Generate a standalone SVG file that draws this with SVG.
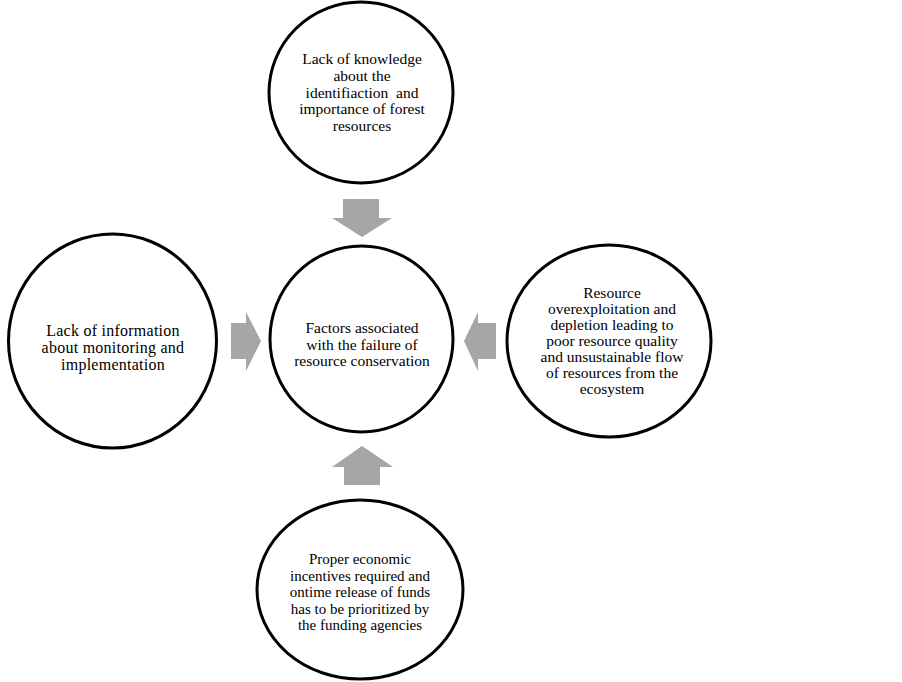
<svg xmlns="http://www.w3.org/2000/svg" width="902" height="682" viewBox="0 0 902 682">
<style>
.node{fill:#fff;stroke:#000;stroke-width:3}
.t{font-family:"Liberation Serif","Times New Roman",serif;font-size:15.5px;fill:#000;text-anchor:middle;white-space:pre}
.big{font-size:16px;letter-spacing:0.25px}
.sm{font-size:15px}
.arr{fill:#a6a6a6;stroke:none}
</style>
<rect width="902" height="682" fill="#fff"/>
<g id="connectors">
<polygon class="arr" points="343,199 379,199 379,218 392,218 362,237 332,218 343,218"/>
<polygon class="arr" points="362,446 393,467 380,467 380,485 344,485 344,467 332,467"/>
<polygon class="arr" points="231,323 246,323 246,312 261,341 246,371 246,359 231,359"/>
<polygon class="arr" points="464,341 478,312 478,323 496,323 496,359 478,359 478,371"/>
</g>
<g id="node-top">
<ellipse class="node" cx="361" cy="92.5" rx="92" ry="90.5"/>
<text class="t" x="362" y="64">Lack of knowledge</text>
<text class="t" x="362" y="81">about the</text>
<text class="t" x="362" y="97.5" xml:space="preserve">identifiaction  and</text>
<text class="t" x="362" y="114">importance of forest</text>
<text class="t" x="362" y="131">resources</text>
</g>
<g id="node-center">
<ellipse class="node" cx="361.5" cy="339" rx="91.5" ry="93"/>
<text class="t" x="362" y="333">Factors associated</text>
<text class="t" x="362" y="350">with the failure of</text>
<text class="t" x="362" y="366">resource conservation</text>
</g>
<g id="node-left">
<ellipse class="node" cx="112.5" cy="341" rx="104" ry="107"/>
<text class="t big" x="113" y="335.5">Lack of information</text>
<text class="t big" x="113" y="352.5">about monitoring and</text>
<text class="t big" x="113" y="369.5">implementation</text>
</g>
<g id="node-right">
<ellipse class="node" cx="609" cy="341" rx="102" ry="96"/>
<text class="t" x="612" y="298">Resource</text>
<text class="t" x="612" y="314">overexploitation and</text>
<text class="t" x="612" y="330">depletion leading to</text>
<text class="t" x="612" y="346">poor resource quality</text>
<text class="t" x="612" y="362">and unsustainable flow</text>
<text class="t" x="612" y="378">of resources from the</text>
<text class="t" x="612" y="394">ecosystem</text>
</g>
<g id="node-bottom">
<ellipse class="node" cx="360" cy="589.5" rx="103" ry="89.5"/>
<text class="t sm" x="360" y="564">Proper economic</text>
<text class="t sm" x="360" y="580.5">incentives required and</text>
<text class="t sm" x="360" y="597">ontime release of funds</text>
<text class="t sm" x="360" y="613.5">has to be prioritized by</text>
<text class="t sm" x="360" y="630">the funding agencies</text>
</g>
</svg>
